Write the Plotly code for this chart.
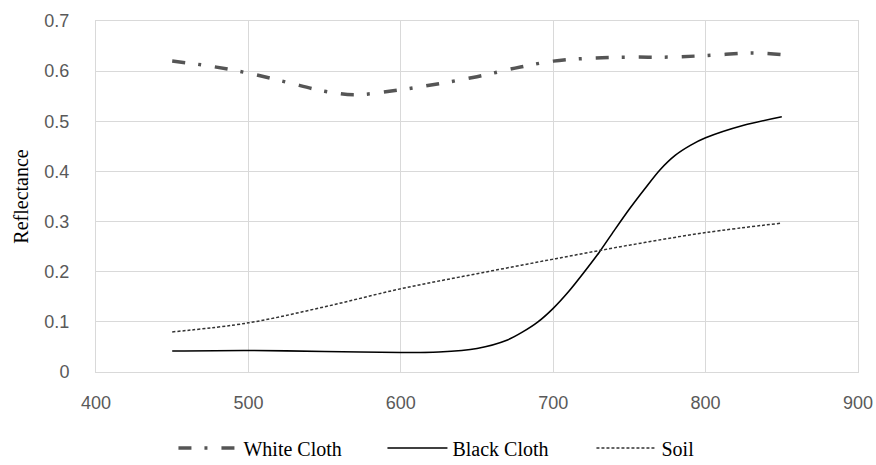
import plotly.graph_objects as go

wl_white = [450, 475, 500, 525, 550, 570, 600, 625, 650, 675, 700, 725, 750, 775, 800, 830, 850]
white_cloth = [0.620, 0.610, 0.596, 0.578, 0.560, 0.553, 0.563, 0.575, 0.589, 0.606, 0.620, 0.626, 0.628, 0.628, 0.631, 0.636, 0.633]

wl_black = [450, 500, 550, 600, 625, 650, 670, 680, 690, 700, 710, 720, 730, 740, 750, 760, 770, 780, 790, 800, 825, 850]
black_cloth = [0.042, 0.043, 0.041, 0.039, 0.040, 0.047, 0.064, 0.080, 0.100, 0.127, 0.160, 0.198, 0.238, 0.282, 0.325, 0.365, 0.403, 0.432, 0.452, 0.467, 0.492, 0.509]

wl_soil = [450, 500, 550, 600, 650, 700, 750, 800, 850]
soil = [0.080, 0.098, 0.130, 0.166, 0.196, 0.225, 0.253, 0.278, 0.297]

fig = go.Figure()
fig.add_trace(go.Scatter(x=wl_white, y=white_cloth, mode="lines", name="White Cloth",
                         line=dict(color="#555555", width=3.5, dash="13px,13px,3px,14px", shape="spline")))
fig.add_trace(go.Scatter(x=wl_black, y=black_cloth, mode="lines", name="Black Cloth",
                         line=dict(color="#000000", width=1.6, shape="spline", smoothing=0.8)))
fig.add_trace(go.Scatter(x=wl_soil, y=soil, mode="lines", name="Soil",
                         line=dict(color="#333333", width=1.5, dash="3px,2px", shape="spline")))

grid = "#d9d9d9"
fig.update_layout(
    width=876, height=465,
    margin=dict(l=96, r=18, t=21, b=93, autoexpand=False),
    plot_bgcolor="white", paper_bgcolor="white",
    showlegend=True,
    legend=dict(orientation="h", x=0.198, xanchor="left", xref="container",
                y=0.0366, yanchor="middle", yref="container",
                font=dict(family="Liberation Serif", size=20, color="#000000"),
                itemwidth=60, entrywidth=134),
    xaxis=dict(range=[400, 900], tickvals=[400, 500, 600, 700, 800, 900],
               showgrid=True, gridcolor=grid, gridwidth=1, zeroline=False,
               showline=True, linecolor=grid, mirror=True, automargin=False,
               tickfont=dict(family="Liberation Sans", size=18, color="#595959"),
               ticks="", ticklabelstandoff=14),
    yaxis=dict(range=[0, 0.7], tickvals=[0, 0.1, 0.2, 0.3, 0.4, 0.5, 0.6, 0.7],
               ticktext=["0", "0.1", "0.2", "0.3", "0.4", "0.5", "0.6", "0.7"],
               showgrid=True, gridcolor=grid, gridwidth=1, zeroline=False,
               showline=True, linecolor=grid, mirror=True, automargin=False,
               tickfont=dict(family="Liberation Sans", size=18, color="#595959"),
               ticks="", ticklabelstandoff=22,
               title=dict(text="Reflectance", font=dict(family="Liberation Serif", size=20, color="#000000"),
                          standoff=10)),
)
fig.write_html("out.html", config={"displayModeBar": False},
               post_script="document.body.style.margin='0';")
